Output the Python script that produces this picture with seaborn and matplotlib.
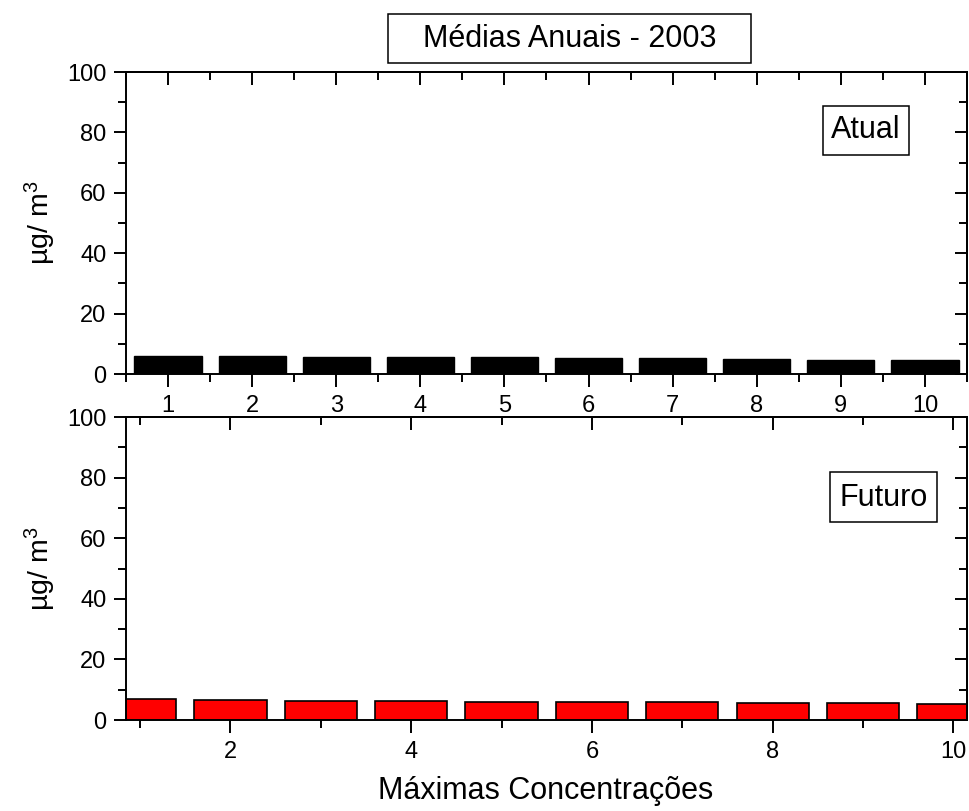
import matplotlib
matplotlib.use("Agg")
import matplotlib.pyplot as plt
from matplotlib.ticker import MultipleLocator, NullFormatter
from matplotlib.patches import Rectangle
import seaborn as sns
import pandas as pd

# ---- data ----
ranks = [1, 2, 3, 4, 5, 6, 7, 8, 9, 10]
atual = [6.1, 5.9, 5.8, 5.6, 5.5, 5.3, 5.2, 4.9, 4.8, 4.7]
futuro = [6.9, 6.6, 6.4, 6.4, 6.1, 5.8, 5.8, 5.6, 5.6, 5.4]
title_text = "Médias Anuais - 2003"
xlabel_text = "Máximas Concentrações"
ylabel_text = "µg/ m$\\mathregular{^3}$"
panel_labels = ["Atual", "Futuro"]

sns.set_style("white")
plt.rcParams["font.family"] = ["Liberation Sans", "DejaVu Sans"]
plt.rcParams["mathtext.fontset"] = "custom"
plt.rcParams["mathtext.rm"] = "Liberation Sans"
for k in ["text.color", "xtick.color", "ytick.color", "axes.labelcolor", "axes.edgecolor"]:
    plt.rcParams[k] = "black"

fig = plt.figure(figsize=(9.7, 8.11), dpi=100)
ax1 = fig.add_axes([0.1299, 0.5388, 0.867, 0.3724])
ax2 = fig.add_axes([0.1299, 0.1122, 0.867, 0.3736])

df1 = pd.DataFrame({"rank": ranks, "val": atual})
df2 = pd.DataFrame({"rank": ranks, "val": futuro})

sns.barplot(data=df1, x="rank", y="val", native_scale=True, color="black",
            saturation=1, width=0.8, edgecolor="black", linewidth=1,
            errorbar=None, ax=ax1)
sns.barplot(data=df2, x="rank", y="val", native_scale=True, color="#ff0000",
            saturation=1, width=0.8, edgecolor="black", linewidth=1.2,
            errorbar=None, ax=ax2)

LW = 1.4
TS = 17
for ax, xlim, xmaj, xmin in [(ax1, (0.5, 10.5), 1, 0.5), (ax2, (0.845, 10.15), 2, 1)]:
    ax.set_xlim(*xlim)
    ax.set_ylim(0, 100)
    ax.set_xlabel("")
    ax.set_ylabel("")
    for s in ax.spines.values():
        s.set_visible(True)
        s.set_linewidth(LW)
        s.set_color("black")
    ax.xaxis.set_major_locator(MultipleLocator(xmaj))
    ax.xaxis.set_minor_locator(MultipleLocator(xmin))
    ax.yaxis.set_major_locator(MultipleLocator(20))
    ax.yaxis.set_minor_locator(MultipleLocator(10))
    ax.tick_params(which="major", direction="out", length=9, width=LW,
                   labelsize=TS, color="black", labelcolor="black", pad=5,
                   bottom=True, left=True, top=False, right=False)
    ax.tick_params(which="minor", direction="out", length=5.5, width=LW,
                   color="black", bottom=True, left=True, top=False, right=False)
    ax.tick_params(axis="x", which="major", pad=6)
    ax.xaxis.set_major_formatter(matplotlib.ticker.FuncFormatter(lambda v, p: f"{v:.0f}"))

    sx = ax.secondary_xaxis("top")
    sx.xaxis.set_major_locator(MultipleLocator(xmaj))
    sx.xaxis.set_minor_locator(MultipleLocator(xmin))
    sx.tick_params(which="major", direction="in", length=9, width=LW, labeltop=False)
    sx.tick_params(which="minor", direction="in", length=5.5, width=LW)
    sx.xaxis.set_minor_formatter(NullFormatter())
    sx.spines["top"].set_linewidth(LW)

    sy = ax.secondary_yaxis("right")
    sy.yaxis.set_major_locator(MultipleLocator(20))
    sy.yaxis.set_minor_locator(MultipleLocator(10))
    sy.tick_params(which="major", direction="in", length=9, width=LW, labelright=False)
    sy.tick_params(which="minor", direction="in", length=5.5, width=LW)
    sy.spines["right"].set_linewidth(LW)

    fig.text(0.042, (ax.get_position().y0 + ax.get_position().y1) / 2, ylabel_text,
             rotation=90, ha="center", va="center", fontsize=20.5)

# panel label boxes
for ax, lab, box, txt in [
    (ax1, panel_labels[0], (0.829, 0.725, 0.102, 0.162), (0.880, 0.780)),
    (ax2, panel_labels[1], (0.837, 0.653, 0.127, 0.165), (0.9005, 0.706)),
]:
    ax.add_patch(Rectangle(box[:2], box[2], box[3], transform=ax.transAxes,
                           fc="white", ec="black", lw=1.1, zorder=5))
    ax.text(txt[0], txt[1], lab, transform=ax.transAxes, ha="center",
            va="baseline", fontsize=22, zorder=6)

# title box
fig.patches.append(Rectangle((0.400, 0.922), 0.374, 0.061, transform=fig.transFigure,
                             fc="white", ec="black", lw=1.1, figure=fig))
fig.text(0.587, 0.9425, title_text, ha="center", va="baseline", fontsize=22)

fig.text(0.563, 0.015, xlabel_text, ha="center", va="baseline", fontsize=22)

fig.savefig("out.png", dpi=100)
